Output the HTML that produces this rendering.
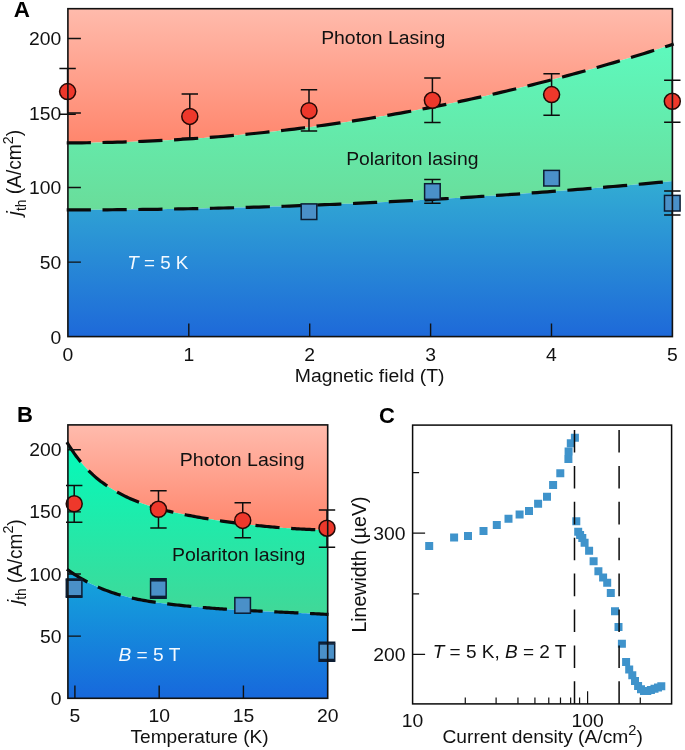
<!DOCTYPE html>
<html><head><meta charset="utf-8"><title>Figure</title>
<style>html,body{margin:0;padding:0;background:#fff;}svg{display:block;will-change:transform;}text{font-family:"Liberation Sans", sans-serif;}</style></head><body>
<svg width="685" height="750" viewBox="0 0 685 750">
<rect width="685" height="750" fill="#ffffff"/>
<defs>
<linearGradient id="aR" gradientUnits="userSpaceOnUse" x1="0" y1="8.7" x2="0" y2="142"><stop offset="0" stop-color="rgb(255,187,172)"/><stop offset="1" stop-color="rgb(255,134,109)"/></linearGradient>
<linearGradient id="aG" gradientUnits="userSpaceOnUse" x1="0" y1="8.7" x2="0" y2="336.6"><stop offset="0" stop-color="rgb(91,255,197)"/><stop offset="1" stop-color="rgb(115,199,127)"/></linearGradient>
<linearGradient id="aB" gradientUnits="userSpaceOnUse" x1="0" y1="180" x2="0" y2="336.6"><stop offset="0" stop-color="rgb(50,173,211)"/><stop offset="1" stop-color="rgb(30,105,217)"/></linearGradient>
<linearGradient id="bR" gradientUnits="userSpaceOnUse" x1="0" y1="424.9" x2="0" y2="531"><stop offset="0" stop-color="rgb(255,187,173)"/><stop offset="1" stop-color="rgb(255,132,106)"/></linearGradient>
<linearGradient id="bG" gradientUnits="userSpaceOnUse" x1="0" y1="441" x2="0" y2="614"><stop offset="0" stop-color="rgb(2,251,187)"/><stop offset="1" stop-color="rgb(65,216,152)"/></linearGradient>
<linearGradient id="bB" gradientUnits="userSpaceOnUse" x1="0" y1="570" x2="0" y2="698.3"><stop offset="0" stop-color="rgb(20,168,219)"/><stop offset="1" stop-color="rgb(23,104,220)"/></linearGradient>
<clipPath id="clipA"><rect x="67.9" y="8.7" width="604.5" height="327.9"/></clipPath>
<clipPath id="clipB"><rect x="67.9" y="424.9" width="259.8" height="273.4"/></clipPath>
</defs>
<g id="panelA">
<g clip-path="url(#clipA)">
<path d="M65.9 8.7 L674.4 8.7 L673.7 44.05 L668.64 45.69 L663.58 47.32 L658.52 48.93 L653.47 50.54 L648.41 52.12 L643.35 53.7 L638.29 55.26 L633.23 56.81 L628.17 58.34 L623.12 59.86 L618.06 61.36 L613 62.85 L607.94 64.33 L602.88 65.79 L597.82 67.24 L592.77 68.68 L587.71 70.1 L582.65 71.51 L577.59 72.91 L572.53 74.29 L567.48 75.66 L562.42 77.01 L557.36 78.35 L552.3 79.68 L547.24 80.99 L542.18 82.29 L537.12 83.57 L532.07 84.84 L527.01 86.1 L521.95 87.34 L516.89 88.57 L511.83 89.79 L506.77 90.99 L501.72 92.18 L496.66 93.35 L491.6 94.51 L486.54 95.66 L481.48 96.79 L476.42 97.91 L471.37 99.02 L466.31 100.11 L461.25 101.19 L456.19 102.25 L451.13 103.3 L446.07 104.34 L441.02 105.36 L435.96 106.37 L430.9 107.37 L425.84 108.35 L420.78 109.32 L415.72 110.27 L410.67 111.21 L405.61 112.14 L400.55 113.05 L395.49 113.95 L390.43 114.84 L385.38 115.71 L380.32 116.57 L375.26 117.41 L370.2 118.24 L365.14 119.06 L360.08 119.86 L355.02 120.65 L349.97 121.42 L344.91 122.18 L339.85 122.93 L334.79 123.67 L329.73 124.39 L324.67 125.09 L319.62 125.78 L314.56 126.46 L309.5 127.13 L304.44 127.78 L299.38 128.42 L294.32 129.04 L289.27 129.65 L284.21 130.25 L279.15 130.83 L274.09 131.4 L269.03 131.95 L263.98 132.49 L258.92 133.02 L253.86 133.53 L248.8 134.03 L243.74 134.52 L238.68 134.99 L233.62 135.45 L228.57 135.89 L223.51 136.32 L218.45 136.74 L213.39 137.14 L208.33 137.53 L203.27 137.91 L198.22 138.27 L193.16 138.62 L188.1 138.95 L183.04 139.27 L177.98 139.58 L172.93 139.87 L167.87 140.15 L162.81 140.42 L157.75 140.67 L152.69 140.91 L147.63 141.13 L142.57 141.34 L137.52 141.54 L132.46 141.72 L127.4 141.89 L122.34 142.04 L117.28 142.18 L112.23 142.31 L107.17 142.43 L102.11 142.53 L97.05 142.61 L91.99 142.68 L86.93 142.74 L81.88 142.79 L76.82 142.82 L71.76 142.84 L66.7 142.84 Z" fill="url(#aR)"/>
<path d="M66.7 142.84 L71.76 142.84 L76.82 142.82 L81.88 142.79 L86.93 142.74 L91.99 142.68 L97.05 142.61 L102.11 142.53 L107.17 142.43 L112.23 142.31 L117.28 142.18 L122.34 142.04 L127.4 141.89 L132.46 141.72 L137.52 141.54 L142.57 141.34 L147.63 141.13 L152.69 140.91 L157.75 140.67 L162.81 140.42 L167.87 140.15 L172.93 139.87 L177.98 139.58 L183.04 139.27 L188.1 138.95 L193.16 138.62 L198.22 138.27 L203.27 137.91 L208.33 137.53 L213.39 137.14 L218.45 136.74 L223.51 136.32 L228.57 135.89 L233.62 135.45 L238.68 134.99 L243.74 134.52 L248.8 134.03 L253.86 133.53 L258.92 133.02 L263.98 132.49 L269.03 131.95 L274.09 131.4 L279.15 130.83 L284.21 130.25 L289.27 129.65 L294.32 129.04 L299.38 128.42 L304.44 127.78 L309.5 127.13 L314.56 126.46 L319.62 125.78 L324.67 125.09 L329.73 124.39 L334.79 123.67 L339.85 122.93 L344.91 122.18 L349.97 121.42 L355.02 120.65 L360.08 119.86 L365.14 119.06 L370.2 118.24 L375.26 117.41 L380.32 116.57 L385.38 115.71 L390.43 114.84 L395.49 113.95 L400.55 113.05 L405.61 112.14 L410.67 111.21 L415.72 110.27 L420.78 109.32 L425.84 108.35 L430.9 107.37 L435.96 106.37 L441.02 105.36 L446.07 104.34 L451.13 103.3 L456.19 102.25 L461.25 101.19 L466.31 100.11 L471.37 99.02 L476.42 97.91 L481.48 96.79 L486.54 95.66 L491.6 94.51 L496.66 93.35 L501.72 92.18 L506.77 90.99 L511.83 89.79 L516.89 88.57 L521.95 87.34 L527.01 86.1 L532.07 84.84 L537.12 83.57 L542.18 82.29 L547.24 80.99 L552.3 79.68 L557.36 78.35 L562.42 77.01 L567.48 75.66 L572.53 74.29 L577.59 72.91 L582.65 71.51 L587.71 70.1 L592.77 68.68 L597.82 67.24 L602.88 65.79 L607.94 64.33 L613 62.85 L618.06 61.36 L623.12 59.86 L628.17 58.34 L633.23 56.81 L638.29 55.26 L643.35 53.7 L648.41 52.12 L653.47 50.54 L658.52 48.93 L663.58 47.32 L668.64 45.69 L673.7 44.05 L673.7 181.02 L668.64 181.5 L663.58 181.98 L658.52 182.45 L653.47 182.92 L648.41 183.38 L643.35 183.84 L638.29 184.3 L633.23 184.75 L628.17 185.2 L623.12 185.64 L618.06 186.08 L613 186.52 L607.94 186.95 L602.88 187.38 L597.82 187.81 L592.77 188.23 L587.71 188.64 L582.65 189.05 L577.59 189.46 L572.53 189.87 L567.48 190.26 L562.42 190.66 L557.36 191.05 L552.3 191.44 L547.24 191.82 L542.18 192.2 L537.12 192.58 L532.07 192.95 L527.01 193.32 L521.95 193.68 L516.89 194.04 L511.83 194.4 L506.77 194.75 L501.72 195.1 L496.66 195.44 L491.6 195.78 L486.54 196.11 L481.48 196.45 L476.42 196.77 L471.37 197.1 L466.31 197.42 L461.25 197.73 L456.19 198.04 L451.13 198.35 L446.07 198.65 L441.02 198.95 L435.96 199.25 L430.9 199.54 L425.84 199.83 L420.78 200.11 L415.72 200.39 L410.67 200.66 L405.61 200.93 L400.55 201.2 L395.49 201.46 L390.43 201.72 L385.38 201.98 L380.32 202.23 L375.26 202.47 L370.2 202.72 L365.14 202.96 L360.08 203.19 L355.02 203.42 L349.97 203.65 L344.91 203.87 L339.85 204.09 L334.79 204.3 L329.73 204.51 L324.67 204.72 L319.62 204.92 L314.56 205.12 L309.5 205.32 L304.44 205.51 L299.38 205.69 L294.32 205.88 L289.27 206.05 L284.21 206.23 L279.15 206.4 L274.09 206.56 L269.03 206.73 L263.98 206.88 L258.92 207.04 L253.86 207.19 L248.8 207.34 L243.74 207.48 L238.68 207.62 L233.62 207.75 L228.57 207.88 L223.51 208.01 L218.45 208.13 L213.39 208.25 L208.33 208.36 L203.27 208.47 L198.22 208.57 L193.16 208.68 L188.1 208.77 L183.04 208.87 L177.98 208.96 L172.93 209.04 L167.87 209.12 L162.81 209.2 L157.75 209.28 L152.69 209.35 L147.63 209.41 L142.57 209.47 L137.52 209.53 L132.46 209.58 L127.4 209.63 L122.34 209.68 L117.28 209.72 L112.23 209.76 L107.17 209.79 L102.11 209.82 L97.05 209.84 L91.99 209.87 L86.93 209.88 L81.88 209.9 L76.82 209.91 L71.76 209.91 L66.7 209.91 Z" fill="url(#aG)"/>
<path d="M66.7 209.91 L71.76 209.91 L76.82 209.91 L81.88 209.9 L86.93 209.88 L91.99 209.87 L97.05 209.84 L102.11 209.82 L107.17 209.79 L112.23 209.76 L117.28 209.72 L122.34 209.68 L127.4 209.63 L132.46 209.58 L137.52 209.53 L142.57 209.47 L147.63 209.41 L152.69 209.35 L157.75 209.28 L162.81 209.2 L167.87 209.12 L172.93 209.04 L177.98 208.96 L183.04 208.87 L188.1 208.77 L193.16 208.68 L198.22 208.57 L203.27 208.47 L208.33 208.36 L213.39 208.25 L218.45 208.13 L223.51 208.01 L228.57 207.88 L233.62 207.75 L238.68 207.62 L243.74 207.48 L248.8 207.34 L253.86 207.19 L258.92 207.04 L263.98 206.88 L269.03 206.73 L274.09 206.56 L279.15 206.4 L284.21 206.23 L289.27 206.05 L294.32 205.88 L299.38 205.69 L304.44 205.51 L309.5 205.32 L314.56 205.12 L319.62 204.92 L324.67 204.72 L329.73 204.51 L334.79 204.3 L339.85 204.09 L344.91 203.87 L349.97 203.65 L355.02 203.42 L360.08 203.19 L365.14 202.96 L370.2 202.72 L375.26 202.47 L380.32 202.23 L385.38 201.98 L390.43 201.72 L395.49 201.46 L400.55 201.2 L405.61 200.93 L410.67 200.66 L415.72 200.39 L420.78 200.11 L425.84 199.83 L430.9 199.54 L435.96 199.25 L441.02 198.95 L446.07 198.65 L451.13 198.35 L456.19 198.04 L461.25 197.73 L466.31 197.42 L471.37 197.1 L476.42 196.77 L481.48 196.45 L486.54 196.11 L491.6 195.78 L496.66 195.44 L501.72 195.1 L506.77 194.75 L511.83 194.4 L516.89 194.04 L521.95 193.68 L527.01 193.32 L532.07 192.95 L537.12 192.58 L542.18 192.2 L547.24 191.82 L552.3 191.44 L557.36 191.05 L562.42 190.66 L567.48 190.26 L572.53 189.87 L577.59 189.46 L582.65 189.05 L587.71 188.64 L592.77 188.23 L597.82 187.81 L602.88 187.38 L607.94 186.95 L613 186.52 L618.06 186.08 L623.12 185.64 L628.17 185.2 L633.23 184.75 L638.29 184.3 L643.35 183.84 L648.41 183.38 L653.47 182.92 L658.52 182.45 L663.58 181.98 L668.64 181.5 L673.7 181.02 L674.4 336.6 L65.9 336.6 Z" fill="url(#aB)"/>
</g>
<path d="M66.7 142.84 L71.76 142.84 L76.82 142.82 L81.88 142.79 L86.93 142.74 L91.99 142.68 L97.05 142.61 L102.11 142.53 L107.17 142.43 L112.23 142.31 L117.28 142.18 L122.34 142.04 L127.4 141.89 L132.46 141.72 L137.52 141.54 L142.57 141.34 L147.63 141.13 L152.69 140.91 L157.75 140.67 L162.81 140.42 L167.87 140.15 L172.93 139.87 L177.98 139.58 L183.04 139.27 L188.1 138.95 L193.16 138.62 L198.22 138.27 L203.27 137.91 L208.33 137.53 L213.39 137.14 L218.45 136.74 L223.51 136.32 L228.57 135.89 L233.62 135.45 L238.68 134.99 L243.74 134.52 L248.8 134.03 L253.86 133.53 L258.92 133.02 L263.98 132.49 L269.03 131.95 L274.09 131.4 L279.15 130.83 L284.21 130.25 L289.27 129.65 L294.32 129.04 L299.38 128.42 L304.44 127.78 L309.5 127.13 L314.56 126.46 L319.62 125.78 L324.67 125.09 L329.73 124.39 L334.79 123.67 L339.85 122.93 L344.91 122.18 L349.97 121.42 L355.02 120.65 L360.08 119.86 L365.14 119.06 L370.2 118.24 L375.26 117.41 L380.32 116.57 L385.38 115.71 L390.43 114.84 L395.49 113.95 L400.55 113.05 L405.61 112.14 L410.67 111.21 L415.72 110.27 L420.78 109.32 L425.84 108.35 L430.9 107.37 L435.96 106.37 L441.02 105.36 L446.07 104.34 L451.13 103.3 L456.19 102.25 L461.25 101.19 L466.31 100.11 L471.37 99.02 L476.42 97.91 L481.48 96.79 L486.54 95.66 L491.6 94.51 L496.66 93.35 L501.72 92.18 L506.77 90.99 L511.83 89.79 L516.89 88.57 L521.95 87.34 L527.01 86.1 L532.07 84.84 L537.12 83.57 L542.18 82.29 L547.24 80.99 L552.3 79.68 L557.36 78.35 L562.42 77.01 L567.48 75.66 L572.53 74.29 L577.59 72.91 L582.65 71.51 L587.71 70.1 L592.77 68.68 L597.82 67.24 L602.88 65.79 L607.94 64.33 L613 62.85 L618.06 61.36 L623.12 59.86 L628.17 58.34 L633.23 56.81 L638.29 55.26 L643.35 53.7 L648.41 52.12 L653.47 50.54 L658.52 48.93 L663.58 47.32 L668.64 45.69 L673.7 44.05" fill="none" stroke="#0a0a0a" stroke-width="3.2" stroke-dasharray="24.2 11.6"/>
<path d="M66.7 209.91 L71.76 209.91 L76.82 209.91 L81.88 209.9 L86.93 209.88 L91.99 209.87 L97.05 209.84 L102.11 209.82 L107.17 209.79 L112.23 209.76 L117.28 209.72 L122.34 209.68 L127.4 209.63 L132.46 209.58 L137.52 209.53 L142.57 209.47 L147.63 209.41 L152.69 209.35 L157.75 209.28 L162.81 209.2 L167.87 209.12 L172.93 209.04 L177.98 208.96 L183.04 208.87 L188.1 208.77 L193.16 208.68 L198.22 208.57 L203.27 208.47 L208.33 208.36 L213.39 208.25 L218.45 208.13 L223.51 208.01 L228.57 207.88 L233.62 207.75 L238.68 207.62 L243.74 207.48 L248.8 207.34 L253.86 207.19 L258.92 207.04 L263.98 206.88 L269.03 206.73 L274.09 206.56 L279.15 206.4 L284.21 206.23 L289.27 206.05 L294.32 205.88 L299.38 205.69 L304.44 205.51 L309.5 205.32 L314.56 205.12 L319.62 204.92 L324.67 204.72 L329.73 204.51 L334.79 204.3 L339.85 204.09 L344.91 203.87 L349.97 203.65 L355.02 203.42 L360.08 203.19 L365.14 202.96 L370.2 202.72 L375.26 202.47 L380.32 202.23 L385.38 201.98 L390.43 201.72 L395.49 201.46 L400.55 201.2 L405.61 200.93 L410.67 200.66 L415.72 200.39 L420.78 200.11 L425.84 199.83 L430.9 199.54 L435.96 199.25 L441.02 198.95 L446.07 198.65 L451.13 198.35 L456.19 198.04 L461.25 197.73 L466.31 197.42 L471.37 197.1 L476.42 196.77 L481.48 196.45 L486.54 196.11 L491.6 195.78 L496.66 195.44 L501.72 195.1 L506.77 194.75 L511.83 194.4 L516.89 194.04 L521.95 193.68 L527.01 193.32 L532.07 192.95 L537.12 192.58 L542.18 192.2 L547.24 191.82 L552.3 191.44 L557.36 191.05 L562.42 190.66 L567.48 190.26 L572.53 189.87 L577.59 189.46 L582.65 189.05 L587.71 188.64 L592.77 188.23 L597.82 187.81 L602.88 187.38 L607.94 186.95 L613 186.52 L618.06 186.08 L623.12 185.64 L628.17 185.2 L633.23 184.75 L638.29 184.3 L643.35 183.84 L648.41 183.38 L653.47 182.92 L658.52 182.45 L663.58 181.98 L668.64 181.5 L673.7 181.02" fill="none" stroke="#0a0a0a" stroke-width="3.2" stroke-dasharray="24.2 11.6"/>
<rect x="301.2" y="203.9" width="15.6" height="15.6" fill="#4a90c8" stroke="#0c1d33" stroke-width="1.5"/>
<path d="M432.4 179.6 V203.2 M424.2 179.6 H440.6 M424.2 203.2 H440.6" stroke="#0d0d0d" stroke-width="1.5" fill="none"/>
<rect x="424.6" y="183.7" width="15.6" height="15.6" fill="#4a90c8" stroke="#0c1d33" stroke-width="1.5"/>
<rect x="543.8" y="170.4" width="15.6" height="15.6" fill="#4a90c8" stroke="#0c1d33" stroke-width="1.5"/>
<path d="M672.3 190.9 V215 M664.1 190.9 H680.5 M664.1 215 H680.5" stroke="#0d0d0d" stroke-width="1.5" fill="none"/>
<rect x="664.5" y="195.4" width="15.6" height="15.6" fill="#4a90c8" stroke="#0c1d33" stroke-width="1.5"/>
<path d="M67.6 68.6 V114.3 M59.4 68.6 H75.8 M59.4 114.3 H75.8" stroke="#0d0d0d" stroke-width="1.5" fill="none"/>
<circle cx="67.6" cy="91.6" r="8" fill="#ee382b" stroke="#250805" stroke-width="1.5"/>
<path d="M189.8 94.1 V138.3 M181.6 94.1 H198 M181.6 138.3 H198" stroke="#0d0d0d" stroke-width="1.5" fill="none"/>
<circle cx="189.8" cy="116.4" r="8" fill="#ee382b" stroke="#250805" stroke-width="1.5"/>
<path d="M309 89.8 V131 M300.8 89.8 H317.2 M300.8 131 H317.2" stroke="#0d0d0d" stroke-width="1.5" fill="none"/>
<circle cx="309" cy="110.7" r="8" fill="#ee382b" stroke="#250805" stroke-width="1.5"/>
<path d="M432.4 78 V122.5 M424.2 78 H440.6 M424.2 122.5 H440.6" stroke="#0d0d0d" stroke-width="1.5" fill="none"/>
<circle cx="432.4" cy="100.3" r="8" fill="#ee382b" stroke="#250805" stroke-width="1.5"/>
<path d="M551.6 73.8 V115.2 M543.4 73.8 H559.8 M543.4 115.2 H559.8" stroke="#0d0d0d" stroke-width="1.5" fill="none"/>
<circle cx="551.6" cy="94.6" r="8" fill="#ee382b" stroke="#250805" stroke-width="1.5"/>
<path d="M672.3 80.2 V122.3 M664.1 80.2 H680.5 M664.1 122.3 H680.5" stroke="#0d0d0d" stroke-width="1.5" fill="none"/>
<circle cx="672.3" cy="101.3" r="8" fill="#ee382b" stroke="#250805" stroke-width="1.5"/>
<rect x="67.9" y="8.7" width="604.5" height="327.9" fill="none" stroke="#111" stroke-width="1.6"/>
<path d="M67.9 262.08 h13 M67.9 187.55 h13 M67.9 113.03 h13 M67.9 38.51 h13 M188.8 336.6 v-13 M309.7 336.6 v-13 M430.6 336.6 v-13 M551.5 336.6 v-13" stroke="#111" stroke-width="1.4" fill="none"/>
<text transform="translate(61.2 344) scale(1.040 1)" font-size="18.6" text-anchor="end" fill="#111">0</text>
<text transform="translate(61.2 268.78) scale(1.040 1)" font-size="18.6" text-anchor="end" fill="#111">50</text>
<text transform="translate(61.2 194.25) scale(1.040 1)" font-size="18.6" text-anchor="end" fill="#111">100</text>
<text transform="translate(61.2 119.73) scale(1.040 1)" font-size="18.6" text-anchor="end" fill="#111">150</text>
<text transform="translate(61.2 45.21) scale(1.040 1)" font-size="18.6" text-anchor="end" fill="#111">200</text>
<text transform="translate(67.9 360.8) scale(1.040 1)" font-size="18.6" text-anchor="middle" fill="#111">0</text>
<text transform="translate(188.8 360.8) scale(1.040 1)" font-size="18.6" text-anchor="middle" fill="#111">1</text>
<text transform="translate(309.7 360.8) scale(1.040 1)" font-size="18.6" text-anchor="middle" fill="#111">2</text>
<text transform="translate(430.6 360.8) scale(1.040 1)" font-size="18.6" text-anchor="middle" fill="#111">3</text>
<text transform="translate(551.5 360.8) scale(1.040 1)" font-size="18.6" text-anchor="middle" fill="#111">4</text>
<text transform="translate(672.4 360.8) scale(1.040 1)" font-size="18.6" text-anchor="middle" fill="#111">5</text>
<text transform="translate(294.74 382.3) scale(1.0433 1)" font-size="18.6" fill="#111">Magnetic field (T)</text>
<text transform="translate(321.13 43.6) scale(1.0434 1)" font-size="18.6" fill="#111">Photon Lasing</text>
<text transform="translate(346.14 165.2) scale(1.0410 1)" font-size="18.6" fill="#111">Polariton lasing</text>
<text transform="translate(127.27 269.1) scale(0.9891 1)" font-size="19" fill="#f3f9ff"><tspan font-style="italic">T</tspan> = 5 K</text>
<text transform="translate(13.79 17.3) scale(1.0276 1)" font-size="21.8" font-weight="bold" fill="#000">A</text>
<text transform="translate(21.3 215.38) rotate(-90) scale(1.0105 1.070)" font-size="19" fill="#111"><tspan font-style="italic">j</tspan><tspan font-size="13.6" dy="4.3">th</tspan><tspan dy="-4.3"> (A/cm</tspan><tspan font-size="14.2" dy="-8.2">2</tspan><tspan dy="8.2">)</tspan></text>
</g>
<g id="panelB">
<g clip-path="url(#clipB)">
<path d="M65.9 424.9 L329.7 424.9 L328.5 530.1 L326.63 530.06 L324.76 530.01 L322.89 529.95 L321.03 529.89 L319.16 529.83 L317.29 529.77 L315.42 529.7 L313.55 529.62 L311.68 529.54 L309.81 529.46 L307.95 529.38 L306.08 529.29 L304.21 529.2 L302.34 529.1 L300.47 529 L298.6 528.89 L296.73 528.79 L294.87 528.67 L293 528.56 L291.13 528.44 L289.26 528.31 L287.39 528.18 L285.52 528.05 L283.65 527.91 L281.79 527.77 L279.92 527.63 L278.05 527.48 L276.18 527.33 L274.31 527.17 L272.44 527.01 L270.57 526.84 L268.71 526.67 L266.84 526.5 L264.97 526.32 L263.1 526.14 L261.23 525.96 L259.36 525.77 L257.49 525.57 L255.63 525.37 L253.76 525.17 L251.89 524.96 L250.02 524.75 L248.15 524.54 L246.28 524.32 L244.41 524.09 L242.55 523.87 L240.68 523.63 L238.81 523.4 L236.94 523.15 L235.07 522.91 L233.2 522.66 L231.33 522.4 L229.47 522.15 L227.6 521.88 L225.73 521.62 L223.86 521.34 L221.99 521.07 L220.12 520.79 L218.25 520.5 L216.39 520.21 L214.52 519.92 L212.65 519.62 L210.78 519.31 L208.91 519.01 L207.04 518.69 L205.17 518.38 L203.31 518.06 L201.44 517.73 L199.57 517.4 L197.7 517.07 L195.83 516.73 L193.96 516.38 L192.09 516.03 L190.23 515.68 L188.36 515.32 L186.49 514.96 L184.62 514.59 L182.75 514.22 L180.88 513.84 L179.01 513.46 L177.15 513.07 L175.28 512.67 L173.41 512.26 L171.54 511.84 L169.67 511.42 L167.8 510.98 L165.93 510.53 L164.07 510.07 L162.2 509.59 L160.33 509.1 L158.46 508.6 L156.59 508.08 L154.72 507.54 L152.85 506.98 L150.99 506.41 L149.12 505.82 L147.25 505.21 L145.38 504.58 L143.51 503.93 L141.64 503.25 L139.77 502.56 L137.91 501.84 L136.04 501.09 L134.17 500.32 L132.3 499.53 L130.43 498.7 L128.56 497.85 L126.69 496.98 L124.83 496.07 L122.96 495.13 L121.09 494.16 L119.22 493.17 L117.35 492.13 L115.48 491.07 L113.61 489.97 L111.75 488.84 L109.88 487.67 L108.01 486.46 L106.14 485.21 L104.27 483.91 L102.4 482.56 L100.53 481.16 L98.67 479.7 L96.8 478.17 L94.93 476.58 L93.06 474.92 L91.19 473.18 L89.32 471.37 L87.45 469.48 L85.59 467.5 L83.72 465.43 L81.85 463.27 L79.98 461.01 L78.11 458.65 L76.24 456.19 L74.37 453.62 L72.51 450.94 L70.64 448.14 L68.77 445.22 L66.9 442.18 Z" fill="url(#bR)"/>
<path d="M66.9 442.18 L68.77 445.22 L70.64 448.14 L72.51 450.94 L74.37 453.62 L76.24 456.19 L78.11 458.65 L79.98 461.01 L81.85 463.27 L83.72 465.43 L85.59 467.5 L87.45 469.48 L89.32 471.37 L91.19 473.18 L93.06 474.92 L94.93 476.58 L96.8 478.17 L98.67 479.7 L100.53 481.16 L102.4 482.56 L104.27 483.91 L106.14 485.21 L108.01 486.46 L109.88 487.67 L111.75 488.84 L113.61 489.97 L115.48 491.07 L117.35 492.13 L119.22 493.17 L121.09 494.16 L122.96 495.13 L124.83 496.07 L126.69 496.98 L128.56 497.85 L130.43 498.7 L132.3 499.53 L134.17 500.32 L136.04 501.09 L137.91 501.84 L139.77 502.56 L141.64 503.25 L143.51 503.93 L145.38 504.58 L147.25 505.21 L149.12 505.82 L150.99 506.41 L152.85 506.98 L154.72 507.54 L156.59 508.08 L158.46 508.6 L160.33 509.1 L162.2 509.59 L164.07 510.07 L165.93 510.53 L167.8 510.98 L169.67 511.42 L171.54 511.84 L173.41 512.26 L175.28 512.67 L177.15 513.07 L179.01 513.46 L180.88 513.84 L182.75 514.22 L184.62 514.59 L186.49 514.96 L188.36 515.32 L190.23 515.68 L192.09 516.03 L193.96 516.38 L195.83 516.73 L197.7 517.07 L199.57 517.4 L201.44 517.73 L203.31 518.06 L205.17 518.38 L207.04 518.69 L208.91 519.01 L210.78 519.31 L212.65 519.62 L214.52 519.92 L216.39 520.21 L218.25 520.5 L220.12 520.79 L221.99 521.07 L223.86 521.34 L225.73 521.62 L227.6 521.88 L229.47 522.15 L231.33 522.4 L233.2 522.66 L235.07 522.91 L236.94 523.15 L238.81 523.4 L240.68 523.63 L242.55 523.87 L244.41 524.09 L246.28 524.32 L248.15 524.54 L250.02 524.75 L251.89 524.96 L253.76 525.17 L255.63 525.37 L257.49 525.57 L259.36 525.77 L261.23 525.96 L263.1 526.14 L264.97 526.32 L266.84 526.5 L268.71 526.67 L270.57 526.84 L272.44 527.01 L274.31 527.17 L276.18 527.33 L278.05 527.48 L279.92 527.63 L281.79 527.77 L283.65 527.91 L285.52 528.05 L287.39 528.18 L289.26 528.31 L291.13 528.44 L293 528.56 L294.87 528.67 L296.73 528.79 L298.6 528.89 L300.47 529 L302.34 529.1 L304.21 529.2 L306.08 529.29 L307.95 529.38 L309.81 529.46 L311.68 529.54 L313.55 529.62 L315.42 529.7 L317.29 529.77 L319.16 529.83 L321.03 529.89 L322.89 529.95 L324.76 530.01 L326.63 530.06 L328.5 530.1 L328.5 614.44 L326.63 614.34 L324.76 614.24 L322.89 614.14 L321.03 614.05 L319.16 613.95 L317.29 613.86 L315.42 613.76 L313.55 613.67 L311.68 613.58 L309.81 613.49 L307.95 613.4 L306.08 613.31 L304.21 613.22 L302.34 613.13 L300.47 613.04 L298.6 612.96 L296.73 612.87 L294.87 612.78 L293 612.7 L291.13 612.61 L289.26 612.52 L287.39 612.44 L285.52 612.35 L283.65 612.27 L281.79 612.18 L279.92 612.09 L278.05 612.01 L276.18 611.92 L274.31 611.83 L272.44 611.75 L270.57 611.66 L268.71 611.57 L266.84 611.48 L264.97 611.39 L263.1 611.3 L261.23 611.2 L259.36 611.11 L257.49 611.02 L255.63 610.92 L253.76 610.83 L251.89 610.73 L250.02 610.63 L248.15 610.53 L246.28 610.43 L244.41 610.32 L242.55 610.22 L240.68 610.11 L238.81 610 L236.94 609.89 L235.07 609.78 L233.2 609.67 L231.33 609.55 L229.47 609.43 L227.6 609.31 L225.73 609.19 L223.86 609.06 L221.99 608.94 L220.12 608.81 L218.25 608.67 L216.39 608.54 L214.52 608.4 L212.65 608.26 L210.78 608.12 L208.91 607.97 L207.04 607.83 L205.17 607.67 L203.31 607.52 L201.44 607.36 L199.57 607.2 L197.7 607.04 L195.83 606.87 L193.96 606.7 L192.09 606.53 L190.23 606.35 L188.36 606.17 L186.49 605.98 L184.62 605.79 L182.75 605.6 L180.88 605.4 L179.01 605.2 L177.15 605 L175.28 604.79 L173.41 604.58 L171.54 604.36 L169.67 604.14 L167.8 603.92 L165.93 603.69 L164.07 603.45 L162.2 603.21 L160.33 602.96 L158.46 602.71 L156.59 602.45 L154.72 602.18 L152.85 601.91 L150.99 601.62 L149.12 601.32 L147.25 601.02 L145.38 600.7 L143.51 600.37 L141.64 600.03 L139.77 599.68 L137.91 599.31 L136.04 598.93 L134.17 598.53 L132.3 598.12 L130.43 597.69 L128.56 597.24 L126.69 596.78 L124.83 596.3 L122.96 595.8 L121.09 595.28 L119.22 594.75 L117.35 594.19 L115.48 593.61 L113.61 593.01 L111.75 592.39 L109.88 591.74 L108.01 591.07 L106.14 590.38 L104.27 589.66 L102.4 588.92 L100.53 588.15 L98.67 587.36 L96.8 586.54 L94.93 585.69 L93.06 584.81 L91.19 583.9 L89.32 582.96 L87.45 582 L85.59 581 L83.72 579.97 L81.85 578.91 L79.98 577.81 L78.11 576.68 L76.24 575.52 L74.37 574.33 L72.51 573.09 L70.64 571.83 L68.77 570.52 L66.9 569.18 Z" fill="url(#bG)"/>
<path d="M66.9 569.18 L68.77 570.52 L70.64 571.83 L72.51 573.09 L74.37 574.33 L76.24 575.52 L78.11 576.68 L79.98 577.81 L81.85 578.91 L83.72 579.97 L85.59 581 L87.45 582 L89.32 582.96 L91.19 583.9 L93.06 584.81 L94.93 585.69 L96.8 586.54 L98.67 587.36 L100.53 588.15 L102.4 588.92 L104.27 589.66 L106.14 590.38 L108.01 591.07 L109.88 591.74 L111.75 592.39 L113.61 593.01 L115.48 593.61 L117.35 594.19 L119.22 594.75 L121.09 595.28 L122.96 595.8 L124.83 596.3 L126.69 596.78 L128.56 597.24 L130.43 597.69 L132.3 598.12 L134.17 598.53 L136.04 598.93 L137.91 599.31 L139.77 599.68 L141.64 600.03 L143.51 600.37 L145.38 600.7 L147.25 601.02 L149.12 601.32 L150.99 601.62 L152.85 601.91 L154.72 602.18 L156.59 602.45 L158.46 602.71 L160.33 602.96 L162.2 603.21 L164.07 603.45 L165.93 603.69 L167.8 603.92 L169.67 604.14 L171.54 604.36 L173.41 604.58 L175.28 604.79 L177.15 605 L179.01 605.2 L180.88 605.4 L182.75 605.6 L184.62 605.79 L186.49 605.98 L188.36 606.17 L190.23 606.35 L192.09 606.53 L193.96 606.7 L195.83 606.87 L197.7 607.04 L199.57 607.2 L201.44 607.36 L203.31 607.52 L205.17 607.67 L207.04 607.83 L208.91 607.97 L210.78 608.12 L212.65 608.26 L214.52 608.4 L216.39 608.54 L218.25 608.67 L220.12 608.81 L221.99 608.94 L223.86 609.06 L225.73 609.19 L227.6 609.31 L229.47 609.43 L231.33 609.55 L233.2 609.67 L235.07 609.78 L236.94 609.89 L238.81 610 L240.68 610.11 L242.55 610.22 L244.41 610.32 L246.28 610.43 L248.15 610.53 L250.02 610.63 L251.89 610.73 L253.76 610.83 L255.63 610.92 L257.49 611.02 L259.36 611.11 L261.23 611.2 L263.1 611.3 L264.97 611.39 L266.84 611.48 L268.71 611.57 L270.57 611.66 L272.44 611.75 L274.31 611.83 L276.18 611.92 L278.05 612.01 L279.92 612.09 L281.79 612.18 L283.65 612.27 L285.52 612.35 L287.39 612.44 L289.26 612.52 L291.13 612.61 L293 612.7 L294.87 612.78 L296.73 612.87 L298.6 612.96 L300.47 613.04 L302.34 613.13 L304.21 613.22 L306.08 613.31 L307.95 613.4 L309.81 613.49 L311.68 613.58 L313.55 613.67 L315.42 613.76 L317.29 613.86 L319.16 613.95 L321.03 614.05 L322.89 614.14 L324.76 614.24 L326.63 614.34 L328.5 614.44 L329.7 698.3 L65.9 698.3 Z" fill="url(#bB)"/>
</g>
<path d="M66.9 442.18 L68.77 445.22 L70.64 448.14 L72.51 450.94 L74.37 453.62 L76.24 456.19 L78.11 458.65 L79.98 461.01 L81.85 463.27 L83.72 465.43 L85.59 467.5 L87.45 469.48 L89.32 471.37 L91.19 473.18 L93.06 474.92 L94.93 476.58 L96.8 478.17 L98.67 479.7 L100.53 481.16 L102.4 482.56 L104.27 483.91 L106.14 485.21 L108.01 486.46 L109.88 487.67 L111.75 488.84 L113.61 489.97 L115.48 491.07 L117.35 492.13 L119.22 493.17 L121.09 494.16 L122.96 495.13 L124.83 496.07 L126.69 496.98 L128.56 497.85 L130.43 498.7 L132.3 499.53 L134.17 500.32 L136.04 501.09 L137.91 501.84 L139.77 502.56 L141.64 503.25 L143.51 503.93 L145.38 504.58 L147.25 505.21 L149.12 505.82 L150.99 506.41 L152.85 506.98 L154.72 507.54 L156.59 508.08 L158.46 508.6 L160.33 509.1 L162.2 509.59 L164.07 510.07 L165.93 510.53 L167.8 510.98 L169.67 511.42 L171.54 511.84 L173.41 512.26 L175.28 512.67 L177.15 513.07 L179.01 513.46 L180.88 513.84 L182.75 514.22 L184.62 514.59 L186.49 514.96 L188.36 515.32 L190.23 515.68 L192.09 516.03 L193.96 516.38 L195.83 516.73 L197.7 517.07 L199.57 517.4 L201.44 517.73 L203.31 518.06 L205.17 518.38 L207.04 518.69 L208.91 519.01 L210.78 519.31 L212.65 519.62 L214.52 519.92 L216.39 520.21 L218.25 520.5 L220.12 520.79 L221.99 521.07 L223.86 521.34 L225.73 521.62 L227.6 521.88 L229.47 522.15 L231.33 522.4 L233.2 522.66 L235.07 522.91 L236.94 523.15 L238.81 523.4 L240.68 523.63 L242.55 523.87 L244.41 524.09 L246.28 524.32 L248.15 524.54 L250.02 524.75 L251.89 524.96 L253.76 525.17 L255.63 525.37 L257.49 525.57 L259.36 525.77 L261.23 525.96 L263.1 526.14 L264.97 526.32 L266.84 526.5 L268.71 526.67 L270.57 526.84 L272.44 527.01 L274.31 527.17 L276.18 527.33 L278.05 527.48 L279.92 527.63 L281.79 527.77 L283.65 527.91 L285.52 528.05 L287.39 528.18 L289.26 528.31 L291.13 528.44 L293 528.56 L294.87 528.67 L296.73 528.79 L298.6 528.89 L300.47 529 L302.34 529.1 L304.21 529.2 L306.08 529.29 L307.95 529.38 L309.81 529.46 L311.68 529.54 L313.55 529.62 L315.42 529.7 L317.29 529.77 L319.16 529.83 L321.03 529.89 L322.89 529.95 L324.76 530.01 L326.63 530.06 L328.5 530.1" fill="none" stroke="#0a0a0a" stroke-width="3.2" stroke-dasharray="24.2 11.6"/>
<path d="M66.9 569.18 L68.77 570.52 L70.64 571.83 L72.51 573.09 L74.37 574.33 L76.24 575.52 L78.11 576.68 L79.98 577.81 L81.85 578.91 L83.72 579.97 L85.59 581 L87.45 582 L89.32 582.96 L91.19 583.9 L93.06 584.81 L94.93 585.69 L96.8 586.54 L98.67 587.36 L100.53 588.15 L102.4 588.92 L104.27 589.66 L106.14 590.38 L108.01 591.07 L109.88 591.74 L111.75 592.39 L113.61 593.01 L115.48 593.61 L117.35 594.19 L119.22 594.75 L121.09 595.28 L122.96 595.8 L124.83 596.3 L126.69 596.78 L128.56 597.24 L130.43 597.69 L132.3 598.12 L134.17 598.53 L136.04 598.93 L137.91 599.31 L139.77 599.68 L141.64 600.03 L143.51 600.37 L145.38 600.7 L147.25 601.02 L149.12 601.32 L150.99 601.62 L152.85 601.91 L154.72 602.18 L156.59 602.45 L158.46 602.71 L160.33 602.96 L162.2 603.21 L164.07 603.45 L165.93 603.69 L167.8 603.92 L169.67 604.14 L171.54 604.36 L173.41 604.58 L175.28 604.79 L177.15 605 L179.01 605.2 L180.88 605.4 L182.75 605.6 L184.62 605.79 L186.49 605.98 L188.36 606.17 L190.23 606.35 L192.09 606.53 L193.96 606.7 L195.83 606.87 L197.7 607.04 L199.57 607.2 L201.44 607.36 L203.31 607.52 L205.17 607.67 L207.04 607.83 L208.91 607.97 L210.78 608.12 L212.65 608.26 L214.52 608.4 L216.39 608.54 L218.25 608.67 L220.12 608.81 L221.99 608.94 L223.86 609.06 L225.73 609.19 L227.6 609.31 L229.47 609.43 L231.33 609.55 L233.2 609.67 L235.07 609.78 L236.94 609.89 L238.81 610 L240.68 610.11 L242.55 610.22 L244.41 610.32 L246.28 610.43 L248.15 610.53 L250.02 610.63 L251.89 610.73 L253.76 610.83 L255.63 610.92 L257.49 611.02 L259.36 611.11 L261.23 611.2 L263.1 611.3 L264.97 611.39 L266.84 611.48 L268.71 611.57 L270.57 611.66 L272.44 611.75 L274.31 611.83 L276.18 611.92 L278.05 612.01 L279.92 612.09 L281.79 612.18 L283.65 612.27 L285.52 612.35 L287.39 612.44 L289.26 612.52 L291.13 612.61 L293 612.7 L294.87 612.78 L296.73 612.87 L298.6 612.96 L300.47 613.04 L302.34 613.13 L304.21 613.22 L306.08 613.31 L307.95 613.4 L309.81 613.49 L311.68 613.58 L313.55 613.67 L315.42 613.76 L317.29 613.86 L319.16 613.95 L321.03 614.05 L322.89 614.14 L324.76 614.24 L326.63 614.34 L328.5 614.44" fill="none" stroke="#0a0a0a" stroke-width="3.2" stroke-dasharray="24.2 11.6"/>
<path d="M74.1 579.2 V596.9 M65.6 579.2 H82.6 M65.6 596.9 H82.6" stroke="#0c1d33" stroke-width="2" fill="none"/>
<rect x="66.3" y="580.2" width="15.6" height="15.6" fill="#4a90c8" stroke="#0c1d33" stroke-width="1.5"/>
<path d="M158.37 579 V598 M149.87 579 H166.87 M149.87 598 H166.87" stroke="#0c1d33" stroke-width="2" fill="none"/>
<rect x="150.56" y="580.8" width="15.6" height="15.6" fill="#4a90c8" stroke="#0c1d33" stroke-width="1.5"/>
<rect x="234.83" y="597.6" width="15.6" height="15.6" fill="#4a90c8" stroke="#0c1d33" stroke-width="1.5"/>
<path d="M326.9 642.4 V661 M318.4 642.4 H335.4 M318.4 661 H335.4" stroke="#0c1d33" stroke-width="2" fill="none"/>
<rect x="319.1" y="643.9" width="15.6" height="15.6" fill="#4a90c8" stroke="#0c1d33" stroke-width="1.5"/>
<path d="M74.2 485.4 V522.2 M66 485.4 H82.4 M66 522.2 H82.4" stroke="#0d0d0d" stroke-width="1.5" fill="none"/>
<circle cx="74.2" cy="503.8" r="8" fill="#ee382b" stroke="#250805" stroke-width="1.5"/>
<path d="M158.47 490.7 V527.9 M150.27 490.7 H166.67 M150.27 527.9 H166.67" stroke="#0d0d0d" stroke-width="1.5" fill="none"/>
<circle cx="158.47" cy="509.3" r="8" fill="#ee382b" stroke="#250805" stroke-width="1.5"/>
<path d="M242.73 502.8 V537.8 M234.53 502.8 H250.93 M234.53 537.8 H250.93" stroke="#0d0d0d" stroke-width="1.5" fill="none"/>
<circle cx="242.73" cy="520.4" r="8" fill="#ee382b" stroke="#250805" stroke-width="1.5"/>
<path d="M327 510.1 V547.3 M318.8 510.1 H335.2 M318.8 547.3 H335.2" stroke="#0d0d0d" stroke-width="1.5" fill="none"/>
<circle cx="327" cy="528.2" r="8" fill="#ee382b" stroke="#250805" stroke-width="1.5"/>
<rect x="67.9" y="424.9" width="259.8" height="273.4" fill="none" stroke="#111" stroke-width="1.6"/>
<path d="M67.9 636.16 h13 M67.9 574.03 h13 M67.9 511.89 h13 M67.9 449.75 h13 M74.9 698.3 v-12.8 M159.17 698.3 v-12.8 M243.43 698.3 v-12.8" stroke="#111" stroke-width="1.4" fill="none"/>
<text transform="translate(61.6 704.9) scale(1.040 1)" font-size="18.6" text-anchor="end" fill="#111">0</text>
<text transform="translate(61.6 642.76) scale(1.040 1)" font-size="18.6" text-anchor="end" fill="#111">50</text>
<text transform="translate(61.6 580.63) scale(1.040 1)" font-size="18.6" text-anchor="end" fill="#111">100</text>
<text transform="translate(61.6 518.49) scale(1.040 1)" font-size="18.6" text-anchor="end" fill="#111">150</text>
<text transform="translate(61.6 456.35) scale(1.040 1)" font-size="18.6" text-anchor="end" fill="#111">200</text>
<text transform="translate(74.9 722.4) scale(1.040 1)" font-size="18.6" text-anchor="middle" fill="#111">5</text>
<text transform="translate(159.17 722.4) scale(1.040 1)" font-size="18.6" text-anchor="middle" fill="#111">10</text>
<text transform="translate(243.43 722.4) scale(1.040 1)" font-size="18.6" text-anchor="middle" fill="#111">15</text>
<text transform="translate(327.7 722.4) scale(1.040 1)" font-size="18.6" text-anchor="middle" fill="#111">20</text>
<text transform="translate(130.49 743) scale(1.0282 1)" font-size="18.6" fill="#111">Temperature (K)</text>
<text transform="translate(179.83 465.8) scale(1.0495 1)" font-size="18.6" fill="#111">Photon Lasing</text>
<text transform="translate(172.03 561.3) scale(1.0482 1)" font-size="18.6" fill="#111">Polariton lasing</text>
<text transform="translate(118.5 661) scale(1.0083 1)" font-size="19" fill="#f3f9ff"><tspan font-style="italic">B</tspan> = 5 T</text>
<text transform="translate(16.98 422.4) scale(1.0113 1)" font-size="21.8" font-weight="bold" fill="#000">B</text>
<text transform="translate(21.5 604.1) rotate(-90) scale(1.0012 1.070)" font-size="19" fill="#111"><tspan font-style="italic">j</tspan><tspan font-size="13.6" dy="4.3">th</tspan><tspan dy="-4.3"> (A/cm</tspan><tspan font-size="14.2" dy="-8.2">2</tspan><tspan dy="8.2">)</tspan></text>
</g>
<g id="panelC">
<rect x="412.6" y="425.1" width="259" height="278.8" fill="none" stroke="#0a0a0a" stroke-width="1.5"/>
<path d="M412.6 654.4 h12.5 M412.6 593.8 h6.5 M412.6 533.2 h12.5 M412.6 472.6 h6.5 M465.28 703.9 v-6.5 M496.1 703.9 v-6.5 M517.96 703.9 v-6.5 M534.92 703.9 v-6.5 M548.78 703.9 v-6.5 M560.49 703.9 v-6.5 M570.64 703.9 v-6.5 M579.59 703.9 v-6.5 M640.28 703.9 v-6.5 M587.6 703.9 v-12.7" stroke="#111" stroke-width="1.2" fill="none"/>
<path d="M425.2 542.1h8v8h-8z M450.1 533.6h8v8h-8z M464 532h8v8h-8z M479.5 527.1h8v8h-8z M492.8 520.9h8v8h-8z M504.5 514.8h8v8h-8z M515.6 510.5h8v8h-8z M525 506.9h8v8h-8z M534.1 499.7h8v8h-8z M543 492.8h8v8h-8z M549.1 480.9h8v8h-8z M556.3 469.2h8v8h-8z M564.4 454.9h8v8h-8z M564.6 447.4h8v8h-8z M566.8 439.2h8v8h-8z M570.9 433.8h8v8h-8z M572.3 517.3h8v8h-8z M574.2 527.7h8v8h-8z M576.1 531.1h8v8h-8z M578.3 533.9h8v8h-8z M580.6 538.7h8v8h-8z M585.1 546.8h8v8h-8z M589.6 557.2h8v8h-8z M594.4 567.2h8v8h-8z M599.1 573.6h8v8h-8z M603.2 578.8h8v8h-8z M606.8 588.9h8v8h-8z M611 607.3h8v8h-8z M614.5 623h8v8h-8z M617.9 639.7h8v8h-8z M622.1 657.9h8v8h-8z M625.2 665.6h8v8h-8z M628.3 671.3h8v8h-8z M631 676.9h8v8h-8z M634.1 682h8v8h-8z M637 685.3h8v8h-8z M640 687.1h8v8h-8z M643.3 686.9h8v8h-8z M646.9 686.1h8v8h-8z M650.5 684.8h8v8h-8z M654 683.5h8v8h-8z M657.3 682.3h8v8h-8z" fill="#3f93cb"/>
<path d="M574.5 703.9 V430" stroke="#0a0a0a" stroke-width="1.5" stroke-dasharray="22.6 13.3" fill="none"/>
<path d="M619.1 703.9 V430" stroke="#0a0a0a" stroke-width="1.5" stroke-dasharray="22.6 13.3" fill="none"/>
<text transform="translate(405.5 540.4) scale(1.040 1)" font-size="18.6" text-anchor="end" fill="#111">300</text>
<text transform="translate(405.5 661.2) scale(1.040 1)" font-size="18.6" text-anchor="end" fill="#111">200</text>
<text transform="translate(412.6 727.3) scale(1.040 1)" font-size="18.6" text-anchor="middle" fill="#111">10</text>
<text transform="translate(587.7 727.3) scale(1.040 1)" font-size="18.6" text-anchor="middle" fill="#111">100</text>
<text transform="translate(432.71 658) scale(1.0214 1)" font-size="18.6" fill="#111"><tspan font-style="italic">T</tspan> = 5 K, <tspan font-style="italic">B</tspan> = 2 T</text>
<text transform="translate(442.47 743.3) scale(1.0331 1)" font-size="18.6" fill="#111">Current density (A/cm<tspan font-size="14.2" dy="-8.2">2</tspan><tspan dy="8.2">)</tspan></text>
<text transform="translate(365.5 632.58) rotate(-90) scale(1.0504 1.080)" font-size="18.6" fill="#111">Linewidth (µeV)</text>
<text transform="translate(379.09 422.6) scale(1.0071 1)" font-size="21.8" font-weight="bold" fill="#000">C</text>
</g>
</svg></body></html>
